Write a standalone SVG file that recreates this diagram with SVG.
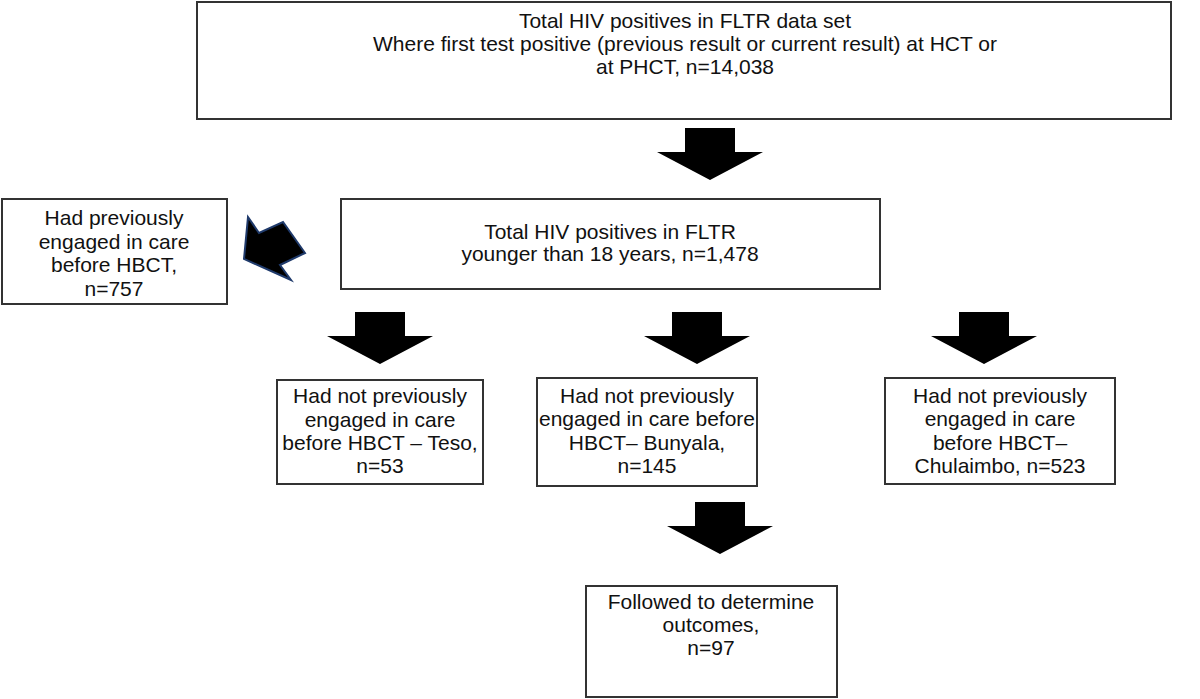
<svg xmlns="http://www.w3.org/2000/svg" width="1200" height="699" viewBox="0 0 1200 699">
<style>
.box{fill:#fff;stroke:#333;stroke-width:2}
.t{font-family:"Liberation Sans",Arial,sans-serif;font-size:21px;fill:#111;text-anchor:middle}
.arr{fill:#000}
.arr2{fill:#000;stroke:#1f3a6b;stroke-width:2;stroke-linejoin:miter}
</style>
<defs>
<polygon id="down" points="-25,0 25,0 25,24 53,24 0,52 -53,24 -25,24"/>
</defs>
<rect width="1200" height="699" fill="#fff"/>
<g id="connectors">
<use href="#down" class="arr" x="710" y="128"/>
<polygon class="arr2" points="248,217 259,233 283,222 305,253 280,265 291,280 244,259"/>
<use href="#down" class="arr" x="380" y="312"/>
<use href="#down" class="arr" x="697" y="312"/>
<use href="#down" class="arr" x="984" y="312"/>
<use href="#down" class="arr" x="720" y="502"/>
</g>
<g id="n1">
<rect class="box" x="197" y="2" width="974" height="117"/>
<text class="t" x="685" y="28">Total HIV positives in FLTR data set</text>
<text class="t" x="685" y="51">Where first test positive (previous result or current result) at HCT or</text>
<text class="t" x="685" y="74">at PHCT, n=14,038</text>
</g>
<g id="n2">
<rect class="box" x="341" y="199" width="539" height="90"/>
<text class="t" x="610" y="239">Total HIV positives in FLTR</text>
<text class="t" x="610" y="261">younger than 18 years, n=1,478</text>
</g>
<g id="n3">
<rect class="box" x="2" y="199" width="225" height="105"/>
<text class="t" x="114" y="225">Had previously</text>
<text class="t" x="114" y="249">engaged in care</text>
<text class="t" x="114" y="272">before HBCT,</text>
<text class="t" x="114" y="296">n=757</text>
</g>
<g id="n4">
<rect class="box" x="277" y="380" width="206" height="104"/>
<text class="t" x="380" y="403">Had not previously</text>
<text class="t" x="380" y="427">engaged in care</text>
<text class="t" x="380" y="450">before HBCT – Teso,</text>
<text class="t" x="380" y="473">n=53</text>
</g>
<g id="n5">
<rect class="box" x="537" y="378" width="220" height="108"/>
<text class="t" x="647" y="403">Had not previously</text>
<text class="t" x="647" y="426">engaged in care before</text>
<text class="t" x="647" y="450">HBCT– Bunyala,</text>
<text class="t" x="647" y="473">n=145</text>
</g>
<g id="n6">
<rect class="box" x="885" y="378" width="230" height="106"/>
<text class="t" x="1000" y="403">Had not previously</text>
<text class="t" x="1000" y="426">engaged in care</text>
<text class="t" x="1000" y="450">before HBCT–</text>
<text class="t" x="1000" y="473">Chulaimbo, n=523</text>
</g>
<g id="n7">
<rect class="box" x="586" y="586" width="251" height="111"/>
<text class="t" x="711" y="609">Followed to determine</text>
<text class="t" x="711" y="632">outcomes,</text>
<text class="t" x="711" y="655">n=97</text>
</g>
</svg>
